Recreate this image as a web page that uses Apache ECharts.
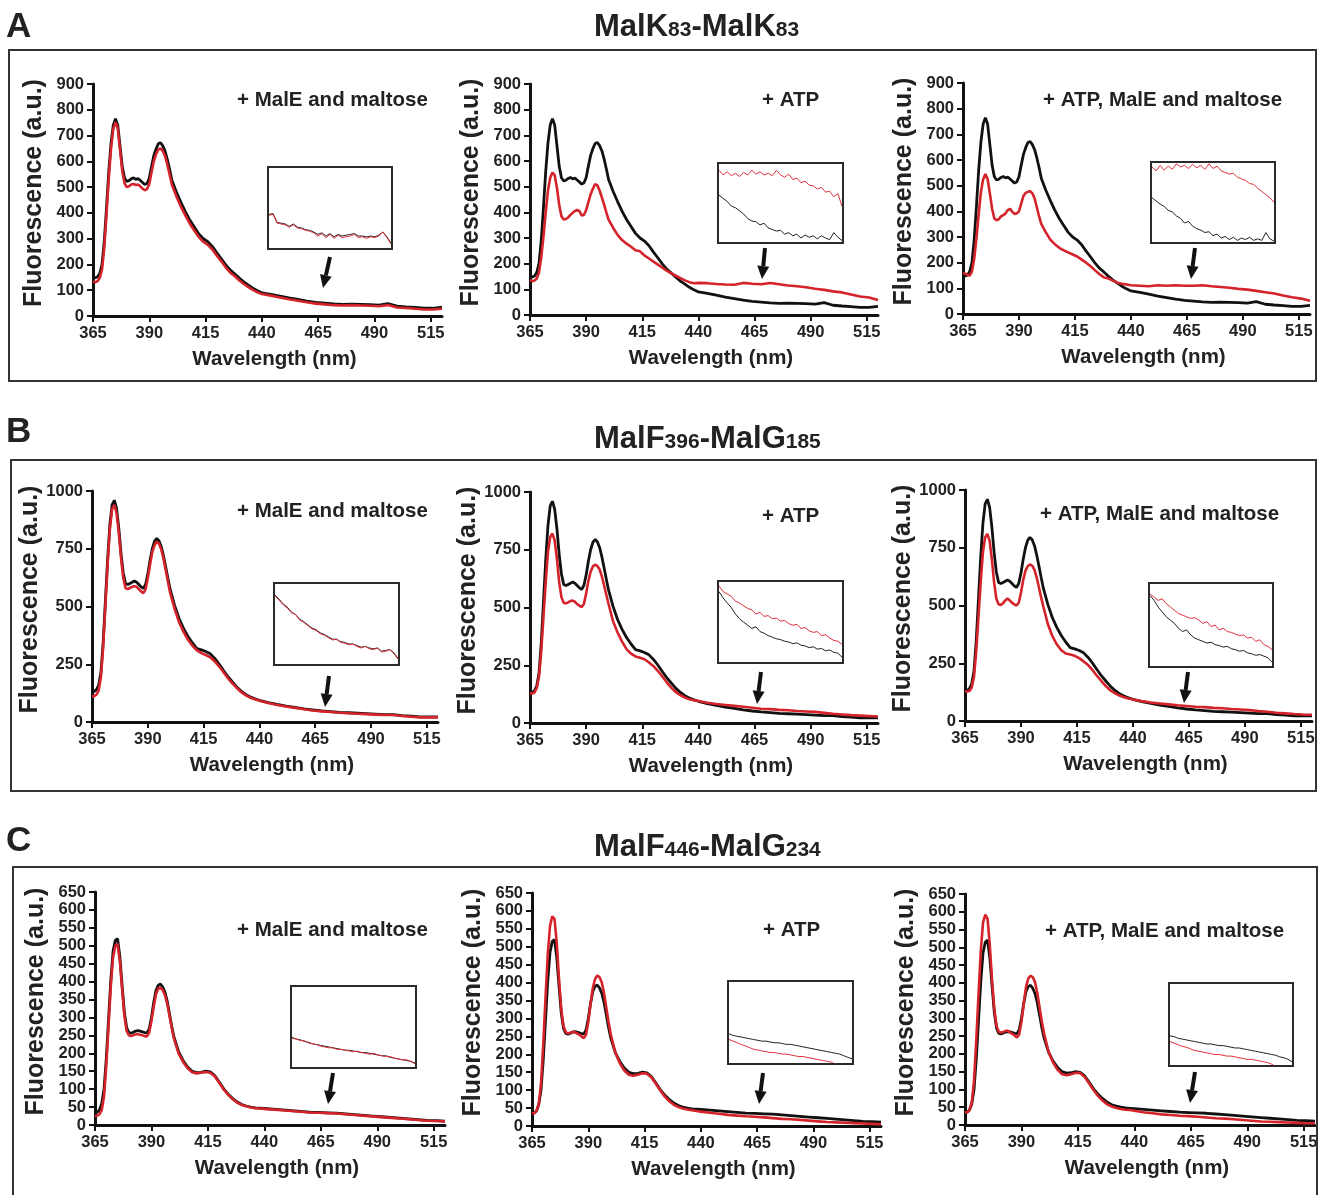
<!DOCTYPE html>
<html><head><meta charset="utf-8">
<script src="https://cdn.jsdelivr.net/npm/echarts@6/dist/echarts.min.js"></script>
<style>html,body{margin:0;padding:0;background:#fff}#c{width:1323px;height:1195px}</style>
</head><body><div id="c"></div>
<script>
// ---------- data ----------
const wavelengths = [365,366,367,368,369,370,371,372,373,374,375,376,377,378,379,380,381,382,383,384,385,386,387,388,389,390,391,392,393,394,395,396,397,398,399,400,
402,404,406,408,410,412,414,416,418,420,422,424,426,428,430,432,434,436,438,440,
444,448,452,456,460,464,468,472,476,480,484,488,492,496,500,504,508,512,516,520];
const xTickValues = [365,390,415,440,465,490,515];

const blackA = [150,148,152,165,200,290,420,560,670,740,765,740,660,580,535,522,525,532,536,530,533,526,518,510,514,535,580,622,648,668,672,660,640,608,570,528,
482,442,405,372,345,318,300,288,270,245,222,198,178,163,147,132,120,108,98,90,
84,77,70,64,58,53,50,47,45,46,45,44,42,48,38,35,33,30,30,34];
const redA1 = [135,130,135,148,180,265,395,535,650,725,752,728,645,562,515,500,503,510,512,508,510,503,494,488,492,512,558,600,628,645,650,640,620,588,550,510,
465,425,390,358,332,306,288,276,258,234,212,188,168,154,138,124,112,101,92,85,
79,72,65,59,53,48,45,42,41,42,41,40,38,43,33,31,28,25,25,28];
const redA2 = [135,132,134,142,165,225,305,400,485,535,555,545,495,430,385,372,374,380,390,398,405,410,405,388,390,408,440,470,492,510,505,485,458,430,400,372,
340,312,292,278,266,252,248,232,220,208,196,184,172,162,153,144,135,128,124,125,
124,121,119,118,125,122,120,125,120,115,112,108,102,98,92,88,80,72,68,58];
const redA3 = [160,158,152,150,165,215,295,390,475,525,545,525,470,410,372,365,370,380,385,392,405,410,398,390,392,400,430,460,472,476,478,470,450,415,380,350,
318,290,272,258,248,240,232,224,212,200,186,170,155,142,138,130,122,118,115,112,
110,108,112,110,112,110,110,112,108,105,102,98,95,90,85,80,72,65,60,52];

const blackB = [130,132,140,160,215,345,525,705,855,940,960,925,840,730,645,600,595,600,605,610,605,595,585,578,595,640,700,750,782,795,785,760,720,672,622,575,
505,448,405,370,342,318,312,305,295,275,250,222,195,172,150,132,118,108,100,94,
84,76,69,63,57,52,48,45,42,40,38,36,34,32,32,28,25,22,22,22];
const redB1 = [110,112,118,138,195,325,505,685,835,922,940,905,820,710,625,580,575,580,585,588,585,575,565,558,575,622,682,735,765,780,772,748,708,658,608,560,
490,432,390,356,330,310,298,290,280,262,240,214,188,166,146,128,115,105,98,92,
82,74,67,61,55,50,46,43,40,38,36,34,32,30,30,26,23,20,20,20];
const redB2 = [128,128,132,152,200,310,460,610,740,805,820,790,710,610,545,520,518,522,528,530,525,515,508,502,515,560,615,655,678,685,680,665,635,595,555,515,
440,392,352,320,300,288,282,276,262,246,225,200,175,152,133,120,110,103,98,95,
88,82,78,74,70,66,62,60,57,55,52,50,48,44,40,37,34,32,30,28];
const redB3 = [128,128,130,145,190,300,450,600,730,795,810,780,700,600,530,505,502,510,522,530,522,512,505,500,512,555,610,650,670,678,672,655,622,580,535,495,
420,368,332,306,292,288,282,272,258,242,220,195,172,150,132,120,110,103,97,93,
86,80,76,72,68,65,62,60,57,55,52,50,47,43,40,36,33,30,28,27];

const blackC = [35,36,42,60,100,185,295,405,485,515,520,470,390,315,272,258,256,259,262,263,262,260,258,257,268,300,342,375,390,393,385,370,345,310,275,245,
205,180,162,150,146,147,150,148,138,120,101,86,74,64,57,53,50,48,47,46,
44,42,40,38,36,35,34,33,31,29,27,25,23,21,19,17,15,13,12,11];
const redC1 = [25,26,30,42,80,168,278,388,468,500,505,458,380,306,263,250,248,250,253,253,252,250,248,247,258,290,330,365,380,383,376,362,338,305,270,240,
200,176,158,147,144,146,148,146,136,118,99,84,72,62,56,52,49,47,46,45,
43,41,39,37,35,34,33,32,30,28,26,24,22,20,18,16,14,12,11,10];
const redC2 = [35,36,42,60,118,228,358,478,558,585,578,510,410,325,278,262,258,260,262,262,258,255,250,245,255,290,340,385,410,420,415,400,370,330,290,255,
205,175,155,143,140,143,147,146,136,118,99,82,69,59,53,49,46,44,42,40,
37,34,31,29,27,26,24,22,20,19,17,15,13,11,10,9,8,7,6,5];
const redC3 = [35,36,42,62,125,240,370,490,570,592,580,505,405,325,278,262,260,262,265,265,260,256,252,246,255,290,340,388,412,420,416,402,372,332,292,258,
206,176,155,143,140,143,147,146,135,117,98,81,68,58,52,48,45,43,42,40,
36,33,30,28,26,25,23,21,19,18,16,14,12,10,9,8,7,6,5,5];

// inset (zoomed tail) traces, relative units 0-100 across 31 steps
const insetSteps = [0,1,2,3,4,5,6,7,8,9,10,11,12,13,14,15,16,17,18,19,20,21,22,23,24,25,26,27,28,29,30];
const insA1k = [42,43,32,31,30,27,30,26,25,23,22,20,17,19,15,18,14,17,15,16,17,18,15,15,14,15,14,16,20,14,6];
const insA1r = [41,42,31,30,29,26,29,25,24,22,21,19,15,18,13,17,12,16,13,14,15,17,13,14,12,14,13,15,20,13,5];
const insA2k = [60,56,52,46,44,40,36,30,27,26,22,24,18,16,14,15,10,12,8,10,5,9,6,8,4,8,5,3,12,6,2];
const insA2r = [92,86,90,85,88,84,89,86,92,87,90,86,88,85,92,86,83,87,80,82,76,78,73,72,68,70,64,65,58,62,46];
const insA3k = [56,52,48,45,40,38,33,30,24,26,20,17,15,12,13,8,10,5,7,3,6,2,5,3,6,2,4,2,12,4,1];
const insA3r = [95,90,97,91,96,92,99,95,97,93,98,94,97,92,99,93,96,90,88,86,87,82,80,78,74,73,68,64,60,56,50];
const insB1k = [86,81,75,71,65,62,56,53,49,45,43,39,37,34,31,31,28,27,25,25,23,21,22,20,19,20,16,17,18,14,7];
const insB1r = [85,80,74,70,64,62,55,52,48,44,42,38,36,33,30,31,27,26,24,25,22,20,22,19,18,20,15,16,18,13,6];
const insB2k = [88,80,74,68,60,54,50,46,42,44,38,36,33,31,29,28,26,25,23,24,21,20,18,19,16,17,14,15,12,11,6];
const insB2r = [95,88,85,82,76,74,70,67,65,60,62,57,58,54,55,51,52,48,46,47,42,43,39,37,38,33,34,30,27,26,22];
const insB3k = [86,80,72,66,60,56,52,46,42,44,38,34,32,30,28,29,26,25,23,24,21,20,18,19,16,15,13,14,12,10,5];
const insB3r = [88,84,80,82,76,72,68,64,62,60,58,59,56,52,54,48,50,44,46,42,41,39,37,38,34,35,30,32,26,24,20];
const insC1k = [37,35,34,32,31,29,28,27,26,25,24,23,22,21,21,20,19,18,18,17,16,15,14,14,12,11,10,9,8,7,5];
const insC1r = [36,35,33,33,30,29,28,26,25,24,24,22,22,21,20,19,20,18,17,16,17,15,14,13,13,11,10,9,9,7,4];
const insC2k = [36,34,33,32,31,30,29,28,27,27,26,25,25,24,23,23,22,21,20,19,18,17,16,15,14,13,12,11,9,7,5];
const insC2r = [29,27,25,23,21,19,17,16,15,14,13,13,12,11,11,10,9,8,8,7,6,5,4,3,2,1,-2,-5,-8,-11,-14];
const insC3k = [36,35,33,32,31,30,29,28,27,26,26,25,24,24,23,22,21,21,20,19,18,17,16,15,14,13,12,10,9,7,4];
const insC3r = [29,27,25,23,22,20,18,17,16,15,14,13,13,12,11,11,10,9,8,7,7,6,5,4,3,1,-2,-5,-8,-11,-14];

const panelBlack = [blackA, blackA, blackA, blackB, blackB, blackB, blackC, blackC, blackC];
const panelRed = [redA1, redA2, redA3, redB1, redB2, redB3, redC1, redC2, redC3];
const panelInsetBlack = [insA1k, insA2k, insA3k, insB1k, insB2k, insB3k, insC1k, insC2k, insC3k];
const panelInsetRed = [insA1r, insA2r, insA3r, insB1r, insB2r, insB3r, insC1r, insC2r, insC3r];
const yMaxes = [900,900,900,1000,1000,1000,650,650,650];
const ySteps = [100,100,100,250,250,250,50,50,50];
const conditionLabels = ['+ MalE and maltose','+ ATP','+ ATP, MalE and maltose','+ MalE and maltose','+ ATP','+ ATP, MalE and maltose','+ MalE and maltose','+ ATP','+ ATP, MalE and maltose'];
const rowLetters = ['A','B','C'];
const rowTitles = [['MalK','83','-MalK','83'],['MalF','396','-MalG','185'],['MalF','446','-MalG','234']];
const xName = 'Wavelength (nm)';
const yName = 'Fluorescence (a.u.)';

// ---------- layout ----------
const gridBoxes = [[93,84,349,232],[530,84,348,231],[963,83,347,231],[92,491,346,231],[530,492,348,231],[965,490,347,231],[95,892,350,233],[532,893,349,233],[965,894,350,231]];
const insetBoxes = [[268,167,124,82],[718,163,125,80],[1151,162,124,81],[274,583,125,82],[718,581,125,82],[1149,583,124,84],[291,986,125,82],[728,981,125,83],[1169,983,124,83]];
const arrowPos = [[330,257,323,288],[765,248,762,279],[1195,248,1191,279],[329,676,325,707],[761,672,757,704],[1188,672,1184,703],[333,1073,328,1104],[763,1073,759,1104],[1195,1072,1190,1103]];
const condPos = [[237,101],[762,101],[1043,101],[237,512],[762,517],[1040,515],[237,931],[763,931],[1045,932]];
const rowBoxes = [[9,50,1307,331],[11,460,1305,331],[13,867,1304,345]];
const letterTops = [10,415,824];
const titleTops = [12,424,832];

const FONT = "'Liberation Sans', Arial, Helvetica, sans-serif";
const TXT = '#222';
const BLACK = '#111';
const RED = '#d4232a';

const grid = [], xAxis = [], yAxis = [], series = [], graphic = [], title = [];

for (let p = 0; p < 9; p++) {
  const g = gridBoxes[p];
  grid.push({left: g[0], top: g[1], width: g[2], height: g[3]});
  xAxis.push({
    type: 'value', gridIndex: p, min: 365, max: 520,
    axisLine: {show: true, lineStyle: {color: BLACK, width: 3}},
    axisTick: {show: true, customValues: xTickValues, length: 6, lineStyle: {color: BLACK, width: 2}},
    axisLabel: {show: true, customValues: xTickValues, fontSize: 16.5, fontWeight: 'bold', color: TXT, fontFamily: FONT, margin: 9,
      formatter: v => String(v)},
    splitLine: {show: false},
    name: xName, nameLocation: 'middle', nameGap: 33,
    nameTextStyle: {fontSize: 20.5, fontWeight: 'bold', color: TXT, fontFamily: FONT, padding: [0, 0, 0, 14]}
  });
  yAxis.push({
    type: 'value', gridIndex: p, min: 0, max: yMaxes[p], interval: ySteps[p],
    axisLine: {show: true, lineStyle: {color: BLACK, width: 3}},
    axisTick: {show: true, length: 6, lineStyle: {color: BLACK, width: 2}},
    axisLabel: {fontSize: 16.5, fontWeight: 'bold', color: TXT, fontFamily: FONT, margin: 9, formatter: v => String(v)},
    splitLine: {show: false},
    name: yName, nameLocation: 'middle', nameGap: 46, nameRotate: 90,
    nameTextStyle: {fontSize: 25, fontWeight: 'bold', color: TXT, fontFamily: FONT, padding: [0, 0, 0, 14]}
  });
  const blk = panelBlack[p], red = panelRed[p];
  series.push({type: 'line', xAxisIndex: p, yAxisIndex: p, showSymbol: false, animation: false, z: 2,
    lineStyle: {color: BLACK, width: 2.8}, itemStyle: {color: BLACK},
    data: wavelengths.map((w, i) => [w, blk[i]])});
  series.push({type: 'line', xAxisIndex: p, yAxisIndex: p, showSymbol: false, animation: false, z: 3,
    lineStyle: {color: RED, width: 2.6}, itemStyle: {color: RED},
    data: wavelengths.map((w, i) => [w, red[i]])});
}
for (let p = 0; p < 9; p++) {
  const b = insetBoxes[p];
  const gi = 9 + p;
  grid.push({left: b[0] + 1, top: b[1] + 1, width: b[2] - 2, height: b[3] - 2});
  xAxis.push({type: 'value', gridIndex: gi, min: 0, max: 30, show: false});
  yAxis.push({type: 'value', gridIndex: gi, min: 0, max: 100, show: false});
  const ik = panelInsetBlack[p], ir = panelInsetRed[p];
  series.push({type: 'line', xAxisIndex: gi, yAxisIndex: gi, showSymbol: false, animation: false, clip: true,
    lineStyle: {color: '#222', width: 1}, data: insetSteps.map((s, i) => [s, ik[i]])});
  series.push({type: 'line', xAxisIndex: gi, yAxisIndex: gi, showSymbol: false, animation: false, clip: true,
    lineStyle: {color: '#e0313a', width: 1}, data: insetSteps.map((s, i) => [s, ir[i]])});
  graphic.push({type: 'rect', shape: {x: b[0], y: b[1], width: b[2], height: b[3]},
    style: {fill: 'none', stroke: '#2a2a2a', lineWidth: 2}, z: 10});
  // arrow
  const a = arrowPos[p];
  const dx = a[2] - a[0], dy = a[3] - a[1], L = Math.sqrt(dx * dx + dy * dy);
  const ux = dx / L, uy = dy / L, px = -uy, py = ux;
  const hl = 13, hw = 6;
  const bx = a[2] - ux * hl, by = a[3] - uy * hl;
  graphic.push({type: 'line', shape: {x1: a[0], y1: a[1], x2: bx, y2: by}, style: {stroke: '#111', lineWidth: 4}, z: 10});
  graphic.push({type: 'polygon', shape: {points: [[a[2], a[3]], [bx + px * hw, by + py * hw], [bx - px * hw, by - py * hw]]},
    style: {fill: '#111'}, z: 10});
  // condition label
  const c = condPos[p];
  graphic.push({type: 'text', left: c[0], top: c[1] - 11, z: 10,
    style: {text: conditionLabels[p], fill: TXT, font: 'bold 20.5px ' + FONT}});
}
for (let r = 0; r < 3; r++) {
  const rb = rowBoxes[r];
  graphic.push({type: 'rect', shape: {x: rb[0], y: rb[1], width: rb[2], height: rb[3]},
    style: {fill: 'none', stroke: '#333', lineWidth: 2}, z: 1});
  title.push({text: rowLetters[r], left: 6, top: letterTops[r], padding: 0,
    textStyle: {fontSize: 35, fontWeight: 'bold', color: TXT, fontFamily: FONT}});
  const t = rowTitles[r];
  title.push({text: '{m|' + t[0] + '}{s|' + t[1] + '}{m|' + t[2] + '}{s|' + t[3] + '}', left: 594, top: titleTops[r], padding: 0,
    textStyle: {rich: {
      m: {fontSize: 31, fontWeight: 'bold', color: TXT, fontFamily: FONT},
      s: {fontSize: 21, fontWeight: 'bold', color: TXT, fontFamily: FONT, verticalAlign: 'bottom', padding: [0, 0, 2, 0]}
    }}});
}

const chart = echarts.init(document.getElementById('c'), null, {renderer: 'canvas'});
chart.setOption({
  animation: false,
  backgroundColor: '#fff',
  title: title,
  grid: grid, xAxis: xAxis, yAxis: yAxis, series: series,
  graphic: {elements: graphic}
});
</script></body></html>
